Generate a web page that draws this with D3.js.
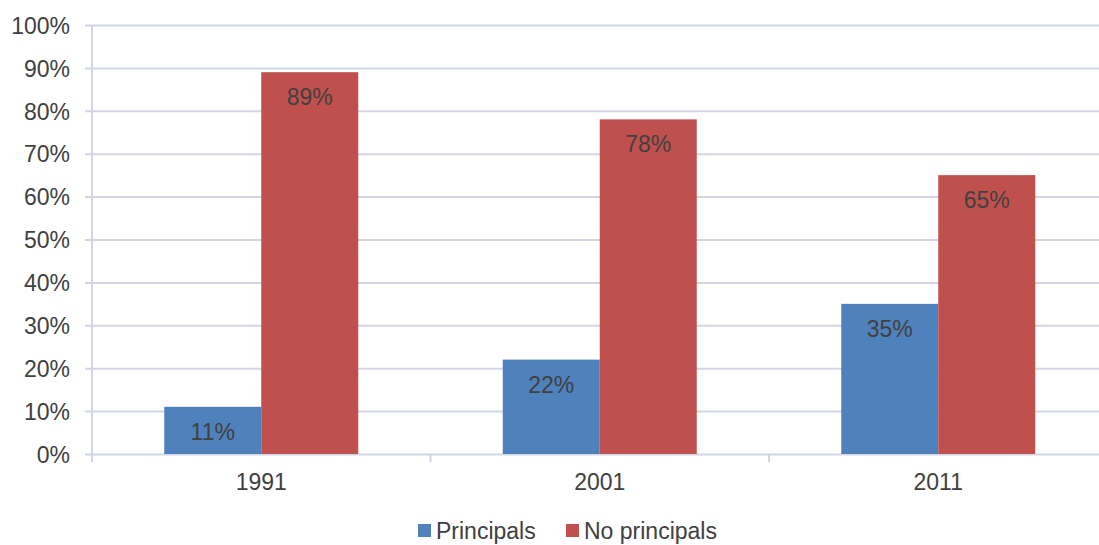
<!DOCTYPE html>
<html>
<head>
<meta charset="utf-8">
<script src="https://cdn.jsdelivr.net/npm/d3@7"></script>
<style>
  html, body { margin: 0; padding: 0; background: #fff; }
  svg { display: block; }
  text { font-family: "Liberation Sans", Arial, sans-serif; fill: #404040; }
</style>
</head>
<body>
<svg id="chart" width="1099" height="545"></svg>
<script>
// Share of schools by year, with and without principals
const years = ["1991", "2001", "2011"];
const seriesNames = ["Principals", "No principals"];
const principals = [0.11, 0.22, 0.35];
const noPrincipals = [0.89, 0.78, 0.65];
const yTicks = [0, 0.1, 0.2, 0.3, 0.4, 0.5, 0.6, 0.7, 0.8, 0.9, 1.0];

const colors = ["#4F81BD", "#C0504D"];
const gridColor = "#D2D5E4";
const fontSize = 23;

const svg = d3.select("#chart");
const plot = { left: 92, right: 1107.5, top: 25, bottom: 454 };

const x = d3.scaleBand()
  .domain(years)
  .range([plot.left, plot.right])
  .paddingInner(0)
  .paddingOuter(0);

const xInner = d3.scaleBand()
  .domain(seriesNames)
  .range([0, x.bandwidth()])
  .paddingInner(0)
  .paddingOuter(0.745);

const y = d3.scaleLinear().domain([0, 1]).range([plot.bottom, plot.top]);

// horizontal gridlines with short ticks on the left
const yAxis = d3.axisLeft(y)
  .tickValues(yTicks)
  .tickFormat(d3.format(".0%"))
  .tickSize(-(plot.right - plot.left))
  .tickSizeOuter(0)
  .tickPadding(22);

const gy = svg.append("g")
  .attr("transform", `translate(${plot.left},0)`)
  .call(yAxis);
gy.select(".domain").remove();
gy.selectAll(".tick line")
  .attr("x1", -7)
  .attr("stroke", gridColor)
  .attr("stroke-width", 2);
gy.selectAll(".tick text")
  .attr("font-size", fontSize)
  .attr("font-family", "Liberation Sans, Arial, sans-serif")
  .attr("fill", "#404040")
  .attr("dy", "0.36em");

// vertical axis line
svg.append("line")
  .attr("x1", plot.left).attr("x2", plot.left)
  .attr("y1", plot.top).attr("y2", plot.bottom + 8)
  .attr("stroke", gridColor)
  .attr("stroke-width", 2);

// category axis along the bottom
const xAxis = d3.axisBottom(x).tickSize(0).tickPadding(20);
const gx = svg.append("g")
  .attr("transform", `translate(0,${plot.bottom})`)
  .call(xAxis);
gx.select(".domain").remove();
gx.selectAll(".tick text")
  .attr("font-size", fontSize)
  .attr("font-family", "Liberation Sans, Arial, sans-serif")
  .attr("fill", "#404040");

// category boundary ticks
const boundaries = years.map(d => x(d)).slice(1);
svg.append("g").selectAll("line")
  .data(boundaries)
  .join("line")
  .attr("x1", d => d).attr("x2", d => d)
  .attr("y1", plot.bottom).attr("y2", plot.bottom + 8)
  .attr("stroke", gridColor)
  .attr("stroke-width", 2);

// bars
const rows = years.map((yr, i) => ({
  year: yr,
  values: [
    { key: seriesNames[0], value: principals[i] },
    { key: seriesNames[1], value: noPrincipals[i] }
  ]
}));

const groups = svg.append("g").selectAll("g")
  .data(rows)
  .join("g")
  .attr("transform", d => `translate(${x(d.year)},0)`);

groups.selectAll("rect")
  .data(d => d.values)
  .join("rect")
  .attr("x", d => xInner(d.key))
  .attr("width", xInner.bandwidth())
  .attr("y", d => y(d.value))
  .attr("height", d => y(0) - y(d.value))
  .attr("fill", (d, i) => colors[i]);

groups.selectAll("text.value")
  .data(d => d.values)
  .join("text")
  .attr("class", "value")
  .attr("x", d => xInner(d.key) + xInner.bandwidth() / 2)
  .attr("y", d => y(d.value) + 33)
  .attr("text-anchor", "middle")
  .attr("font-size", fontSize)
  .text(d => d3.format(".0%")(d.value));

// legend
const legendItems = [
  { name: seriesNames[0], color: colors[0], x: 418 },
  { name: seriesNames[1], color: colors[1], x: 566 }
];
const legend = svg.append("g").selectAll("g")
  .data(legendItems)
  .join("g")
  .attr("transform", d => `translate(${d.x},524)`);
legend.append("rect")
  .attr("width", 13).attr("height", 13)
  .attr("fill", d => d.color);
legend.append("text")
  .attr("x", 18)
  .attr("y", 15)
  .attr("font-size", fontSize)
  .text(d => d.name);
</script>
</body>
</html>
